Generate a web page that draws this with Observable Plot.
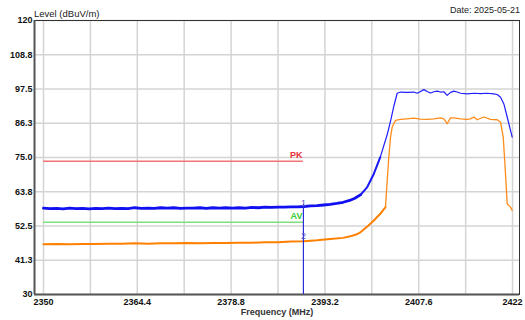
<!DOCTYPE html>
<html>
<head>
<meta charset="utf-8">
<script src="https://cdn.jsdelivr.net/npm/d3@7"></script>
<script src="https://cdn.jsdelivr.net/npm/@observablehq/plot@0.6"></script>
<style>
  html, body { margin: 0; padding: 0; background: #fff; }
  #chart { width: 525px; height: 320px; }
</style>
</head>
<body>
<div id="chart"></div>
<script>
// ---- data ----
const yTicks = [30, 41.25, 52.5, 63.75, 75, 86.25, 97.5, 108.75, 120];
const yTickLabels = ["30", "41.3", "52.5", "63.8", "75.0", "86.3", "97.5", "108.8", "120"];
const xTicks = [2350, 2364.4, 2378.8, 2393.2, 2407.6, 2422];
const xTickLabels = ["2350", "2364.4", "2378.8", "2393.2", "2407.6", "2422"];
const xGrid = [2350, 2357.2, 2364.4, 2371.6, 2378.8, 2386, 2393.2, 2400.4, 2407.6, 2414.8, 2422];
const xDomain = [2348.62, 2423.07];
const yDomain = [30, 120];

const peakFreq = [2350, 2351, 2352, 2353, 2354, 2355, 2356, 2357, 2358, 2359, 2360, 2361, 2362, 2363, 2364, 2365, 2366, 2367, 2368, 2369, 2370, 2371, 2372, 2373, 2374, 2375, 2376, 2377, 2378, 2379, 2380, 2381, 2382, 2383, 2384, 2385, 2386, 2387, 2388, 2389, 2390, 2391, 2392, 2393, 2394, 2395, 2396, 2397, 2397.8, 2398.7, 2399.7, 2400.7, 2401.7, 2402.8, 2403.3, 2403.8, 2404.29, 2404.81, 2405.83, 2406.85, 2407.36, 2407.88, 2408.39, 2408.9, 2409.41, 2409.92, 2410.44, 2410.95, 2411.46, 2411.97, 2412.48, 2412.99, 2413.51, 2414.02, 2415.04, 2416.06, 2417.09, 2418.11, 2419.13, 2419.65, 2420.16, 2420.67, 2421.18, 2421.69, 2421.95];
const peakLevel = [58.4, 58.2, 58.3, 58.1, 58.4, 58.2, 58.3, 58.1, 58.3, 58.2, 58.4, 58.2, 58.3, 58.2, 58.5, 58.3, 58.4, 58.3, 58.5, 58.4, 58.5, 58.3, 58.4, 58.4, 58.5, 58.3, 58.5, 58.4, 58.5, 58.4, 58.5, 58.4, 58.6, 58.5, 58.7, 58.6, 58.7, 58.7, 58.8, 58.8, 58.9, 59.1, 59.2, 59.4, 59.6, 59.9, 60.3, 60.9, 61.6, 62.8, 65.3, 69.6, 75.1, 82.8, 87.2, 92.0, 96.1, 96.5, 96.4, 96.5, 96.1, 96.7, 97.3, 96.7, 96.2, 96.6, 96.8, 96.5, 96.6, 95.4, 96.4, 96.8, 96.5, 96.1, 95.9, 96.1, 96.0, 96.1, 95.9, 95.7, 94.8, 92.6, 88.3, 83.9, 81.7];

const avgFreq = [2350, 2352, 2354, 2356, 2358, 2360, 2362, 2364, 2366, 2368, 2370, 2372, 2374, 2376, 2378, 2380, 2382, 2384, 2386, 2388, 2390, 2392, 2394, 2396, 2397.1, 2398, 2398.7, 2399.7, 2400.7, 2401.7, 2402.5, 2402.76, 2403.01, 2403.27, 2403.53, 2404.04, 2404.81, 2405.83, 2406.85, 2407.88, 2408.9, 2409.92, 2410.95, 2411.46, 2411.97, 2412.48, 2412.99, 2414.02, 2415.04, 2415.55, 2416.06, 2416.57, 2417.6, 2418.62, 2419.65, 2420.16, 2420.57, 2420.77, 2420.98, 2421.18, 2421.69, 2421.95];
const avgLevel = [46.5, 46.6, 46.5, 46.6, 46.6, 46.7, 46.7, 46.8, 46.7, 46.8, 46.8, 46.9, 46.8, 46.9, 46.9, 47.0, 47.0, 47.2, 47.2, 47.4, 47.5, 47.8, 48.2, 48.6, 49.1, 49.7, 50.5, 52.3, 54.3, 56.5, 58.7, 67.4, 75.1, 81.7, 85.0, 87.2, 87.5, 87.7, 87.9, 87.6, 87.5, 87.7, 88.0, 87.7, 86.1, 88.0, 88.0, 87.7, 87.5, 87.7, 88.3, 87.4, 88.3, 87.5, 87.4, 86.6, 81.7, 75.1, 67.4, 59.8, 58.7, 57.6];

const limitNames = ["PK", "AV"];
const limitLevels = [73.8, 53.7];
const limitEnd = 2389.9;
const limitStart = 2350;

const markerFreq = 2389.9;
const markerNames = ["1", "2"];
const markerLevels = [59.6, 49.0];

const yTitle = "Level (dBuV/m)";
const xTitle = "Frequency (MHz)";
const dateText = "Date: 2025-05-21";

// ---- build tables ----
const peak = peakFreq.map((f, i) => ({f, v: peakLevel[i]}));
const avg = avgFreq.map((f, i) => ({f, v: avgLevel[i]}));
const limits = limitNames.map((n, i) => ({name: n, v: limitLevels[i], x1: limitStart, x2: limitEnd}));
const markers = markerNames.map((n, i) => ({name: n, v: markerLevels[i], f: markerFreq}));
const yLab = new Map(yTicks.map((t, i) => [t, yTickLabels[i]]));
const xLab = new Map(xTicks.map((t, i) => [t, xTickLabels[i]]));

const font = "'Liberation Sans', Arial, sans-serif";

const chart = Plot.plot({
  width: 525,
  height: 320,
  marginLeft: 34,
  marginRight: 6,
  marginTop: 20,
  marginBottom: 26,
  style: {fontFamily: font, fontSize: "9px", background: "#fff", color: "#111", overflow: "visible"},
  x: {domain: xDomain, ticks: xTicks, tickFormat: d => xLab.get(d), tickSize: 0, tickPadding: 4, label: null},
  y: {domain: yDomain, ticks: yTicks, tickFormat: d => yLab.get(d), tickSize: 0, tickPadding: 2, label: null},
  marks: [
    Plot.ruleX(xGrid, {stroke: "#d4d4d4", strokeWidth: 1.5, strokeOpacity: 1}),
    Plot.ruleY(yTicks, {stroke: "#d4d4d4", strokeWidth: 1.5, strokeOpacity: 1}),
    Plot.frame({stroke: "#333", strokeWidth: 1}),
    Plot.ruleX([xDomain[0]], {stroke: "#555", strokeWidth: 2}),
    Plot.ruleY([yDomain[0]], {stroke: "#555", strokeWidth: 2}),
    // limit lines
    Plot.ruleY(limits.slice(0, 1), {y: "v", x1: "x1", x2: "x2", stroke: "#f07575", strokeWidth: 1.5}),
    Plot.ruleY(limits.slice(1, 2), {y: "v", x1: "x1", x2: "x2", stroke: "#80e080", strokeWidth: 1.5}),
    // traces
    Plot.line(avg.filter(d => d.f <= 2402.5), {x: "f", y: "v", stroke: "#ff8000", strokeWidth: 2}),
    Plot.line(avg.filter(d => d.f >= 2402.5), {x: "f", y: "v", stroke: "#ff8c1a", strokeWidth: 1.3}),
    Plot.line(peak.filter(d => d.f <= 2398.7), {x: "f", y: "v", stroke: "#1010f0", strokeWidth: 2.8}),
    Plot.line(peak.filter(d => d.f >= 2398.7 && d.f <= 2401.7), {x: "f", y: "v", stroke: "#1818f8", strokeWidth: 2}),
    Plot.line(peak.filter(d => d.f >= 2401.7), {x: "f", y: "v", stroke: "#2020ff", strokeWidth: 1.2}),
    // marker line
    Plot.ruleX([markers[0]], {x: "f", y1: "v", y2: yDomain[0], stroke: "#2a2ad8", strokeWidth: 1.2}),
    Plot.text(markers, {x: "f", y: "v", text: "name", dy: -1, fill: "#5a5ad0", fontSize: 9}),
    // limit labels
    Plot.text(limits.slice(0, 1), {x: "x2", y: "v", text: "name", textAnchor: "end", dy: -6, dx: -1, fill: "#e8303a", fontWeight: "bold", fontSize: 9}),
    Plot.text(limits.slice(1, 2), {x: "x2", y: "v", text: "name", textAnchor: "end", dy: -6, dx: -1, fill: "#33cc33", fontWeight: "bold", fontSize: 9})
  ]
});
chart.querySelectorAll("g[aria-label='x-axis tick label'] text, g[aria-label='y-axis tick label'] text").forEach(t => {
  t.setAttribute("font-weight", "bold");
});

// titles placed as real SVG text, positioned relative to the plot frame
const ns = "http://www.w3.org/2000/svg";
function addText(str, x, y, anchor, size, weight, fill) {
  const t = document.createElementNS(ns, "text");
  t.setAttribute("x", x);
  t.setAttribute("y", y);
  t.setAttribute("text-anchor", anchor);
  t.setAttribute("font-size", size);
  t.setAttribute("font-weight", weight);
  t.setAttribute("fill", fill);
  t.setAttribute("font-family", font);
  t.textContent = str;
  chart.appendChild(t);
}
addText(yTitle, 34, 17, "start", 9.5, "normal", "#222");
addText(dateText, 520, 13, "end", 9, "normal", "#222");
addText(xTitle, 277, 315, "middle", 9, "bold", "#333");

document.getElementById("chart").appendChild(chart);
</script>
</body>
</html>
